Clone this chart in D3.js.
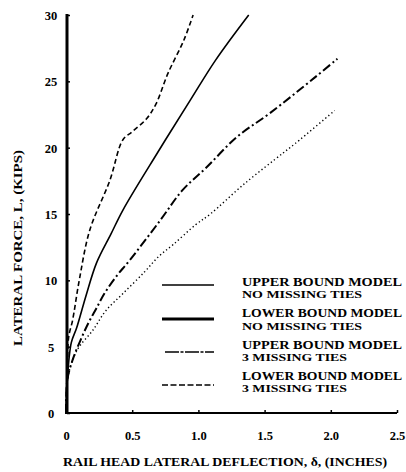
<!DOCTYPE html>
<html><head><meta charset="utf-8">
<script src="https://cdn.jsdelivr.net/npm/d3@7"></script>
<style>body{margin:0;background:#fff}svg{display:block}text{font-family:"Liberation Serif","DejaVu Serif",serif;font-weight:bold;fill:#000}</style>
</head><body>
<svg id="c" width="406" height="472"></svg>
<script>
// Data: deflection (in) vs lateral force (kips)
const xTicks = [0, 0.5, 1.0, 1.5, 2.0, 2.5];
const yTicks = [0, 5, 10, 15, 20, 25, 30];
const dashedCurve = [[0,0],[0.01,2.5],[0.02,5.7],[0.05,7.0],[0.10,10.0],[0.18,13.8],[0.33,17.5],[0.43,20.6],[0.50,21.2],[0.61,22.2],[0.68,23.3],[0.77,25.6],[0.89,28.1],[0.96,30.0]];
const solidCurve = [[0,0],[0.01,2.5],[0.04,5.3],[0.08,6.4],[0.15,8.8],[0.23,11.3],[0.34,13.5],[0.43,15.3],[0.69,19.6],[0.94,23.6],[1.13,26.6],[1.38,30.0]];
const dashDotCurve = [[0,0],[0.01,2.5],[0.05,4.0],[0.11,5.5],[0.17,6.8],[0.23,7.9],[0.29,9.0],[0.38,10.3],[0.48,11.5],[0.71,14.5],[0.88,16.8],[1.06,18.5],[1.29,20.8],[1.54,22.6],[1.88,25.3],[2.05,26.7]];
const dottedCurve = [[0,0],[0.01,2.5],[0.05,4.0],[0.10,5.0],[0.20,6.2],[0.30,7.7],[0.43,9.0],[0.59,10.6],[0.70,11.8],[0.81,12.7],[0.98,14.2],[1.09,15.0],[1.35,17.3],[1.64,19.6],[1.73,20.3],[2.03,22.8]];
const legendLine1 = ["UPPER BOUND MODEL","LOWER BOUND MODEL","UPPER BOUND MODEL","LOWER BOUND MODEL"];
const legendLine2 = ["NO MISSING TIES","NO MISSING TIES","3 MISSING TIES","3 MISSING TIES"];
const xTitle = "RAIL HEAD LATERAL DEFLECTION, δ, (INCHES)";
const yTitle = "LATERAL FORCE, L, (KIPS)";

const svg = d3.select("#c");
const x = d3.scaleLinear().domain([0, 2.5]).range([66, 397]);
const y = d3.scaleLinear().domain([0, 30]).range([413, 15]);

// axes
const xAxis = d3.axisBottom(x).tickValues(xTicks).tickSize(-3).tickPadding(0).tickFormat(d => d === 0 ? "0" : d3.format(".1f")(d));
const gx = svg.append("g").attr("transform", "translate(0,413)").call(xAxis);
gx.select(".domain").attr("stroke", "#000").attr("stroke-width", 2.2).attr("d", "M65,0H397");
gx.selectAll(".tick line").attr("stroke", "#000").attr("stroke-width", 1.5);
gx.selectAll(".tick text").attr("y", 27).attr("dy", 0).style("font-size", "12.5px").style("font-family", '"Liberation Serif",serif').style("font-weight", "bold");

const yAxis = d3.axisLeft(y).tickValues(yTicks).tickSize(-3).tickPadding(0);
const gy = svg.append("g").attr("transform", "translate(67,0)").call(yAxis);
gy.select(".domain").attr("stroke", "#000").attr("stroke-width", 3).attr("d", "M0,14V414");
gy.selectAll(".tick line").attr("stroke", "#000").attr("stroke-width", 1.5);
gy.selectAll(".tick text").attr("x", -16).attr("text-anchor", "middle").attr("dy", "0.35em").style("font-size", "12.5px").style("font-family", '"Liberation Serif",serif').style("font-weight", "bold");

// curves
const line = d3.line().x(d => x(d[0])).y(d => y(d[1])).curve(d3.curveCatmullRom.alpha(0.5));
const curves = [
  {data: dashedCurve, w: 1.6, dash: "5,3"},
  {data: solidCurve, w: 1.6, dash: null},
  {data: dashDotCurve, w: 2.0, dash: "9,3,2,3"},
  {data: dottedCurve, w: 1.4, dash: "1.3,2.6"}
];
curves.forEach(c => {
  svg.append("path").datum(c.data).attr("d", line).attr("fill", "none")
    .attr("stroke", "#000").attr("stroke-width", c.w)
    .attr("stroke-dasharray", c.dash);
});

// legend
const legStyles = [
  {w: 1.5, dash: null, x0: 162, y: 285},
  {w: 2.8, dash: null, x0: 162, y: 319},
  {w: 1.3, dash: "14,1.5,3,1.5", x0: 165, y: 352},
  {w: 1.3, dash: "6,2.5", x0: 162, y: 385}
];
const textRows = [[286, 298], [317, 330], [349, 361], [380, 392]];
legendLine1.forEach((t, i) => {
  const s = legStyles[i];
  svg.append("line").attr("x1", s.x0).attr("x2", 214).attr("y1", s.y).attr("y2", s.y)
    .attr("stroke", "#000").attr("stroke-width", s.w).attr("stroke-dasharray", s.dash);
  svg.append("text").attr("x", 242).attr("y", textRows[i][0]).style("font-size", "12.5px")
    .attr("textLength", 160).attr("lengthAdjust", "spacingAndGlyphs").text(t);
  svg.append("text").attr("x", 242).attr("y", textRows[i][1]).style("font-size", "10.5px")
    .attr("textLength", legendLine2[i].startsWith("3") ? 105 : 120).attr("lengthAdjust", "spacingAndGlyphs").text(legendLine2[i]);
});

// titles
svg.append("text").attr("x", 63).attr("y", 466).style("font-size", "12.5px")
  .attr("textLength", 324).attr("lengthAdjust", "spacingAndGlyphs").text(xTitle);
svg.append("text").attr("transform", "translate(22,346) rotate(-90)").style("font-size", "13px")
  .attr("textLength", 196).attr("lengthAdjust", "spacingAndGlyphs").text(yTitle);
</script>
</body></html>
